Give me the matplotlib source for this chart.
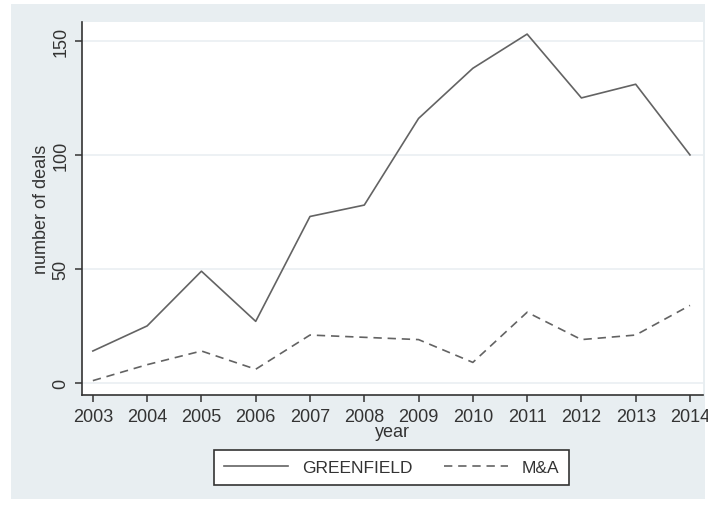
import matplotlib.pyplot as plt
from matplotlib.patches import Rectangle

plt.rcParams['font.family'] = ['Liberation Sans', 'DejaVu Sans']

years = list(range(2003, 2015))
greenfield = [14, 25, 49, 27, 73, 78, 116, 138, 153, 125, 131, 100]
mna = [1, 8, 14, 6, 21, 20, 19, 9, 31, 19, 21, 34]
yticks = [0, 50, 100, 150]

W, H = 708, 506
fig = plt.figure(figsize=(W / 100, H / 100), dpi=100, facecolor='white')

# light grey-blue graph region behind the plot
bg = Rectangle((11 / W, 1 - 500 / H), (705 - 11) / W, (500 - 5) / H,
               transform=fig.transFigure, facecolor='#e8eef1',
               edgecolor='none', zorder=-10)
fig.add_artist(bg)

ax = fig.add_axes([82 / W, 1 - 396 / H, (703 - 82) / W, (396 - 23) / H])
ax.set_zorder(1)
ax.set_facecolor('white')

ax.plot(years, greenfield, color='#636363', lw=1.2, label='GREENFIELD')
ax.plot(years, mna, color='#636363', lw=1.2, dashes=(5, 3.5), label='M&A')

ax.set_xlim(2002.8, 2014.24)
ax.set_ylim(-5.3, 158.3)
ax.set_xticks(years)
ax.set_yticks(yticks)
ax.set_yticklabels([str(v) for v in yticks], rotation=90, va='center')
for v in yticks:
    ax.axhline(v, color='#eaeff2', lw=1.2, zorder=0)

for s in ['top', 'right']:
    ax.spines[s].set_visible(False)
for s in ['left', 'bottom']:
    ax.spines[s].set_color('#333333')
    ax.spines[s].set_linewidth(1.2)
ax.tick_params(axis='both', length=5, width=1.1, color='#333333',
               labelsize=13, labelcolor='#333333', pad=4)

ax.set_xlabel('year', fontsize=13, color='#333333', labelpad=-1)
ax.set_ylabel('number of deals', fontsize=13, color='#333333', labelpad=2)

leg = fig.legend(loc='center', bbox_to_anchor=(391.5 / W, 1 - 468.5 / H), ncol=2,
                 fontsize=12.5, frameon=True, fancybox=False, handlelength=3.7,
                 columnspacing=1.8, handletextpad=0.8, borderpad=0.55)
leg.get_frame().set_edgecolor('#333333')
leg.get_frame().set_linewidth(1.2)
leg.get_frame().set_alpha(1)
leg.get_frame().set_facecolor('white')
leg.set_zorder(2)
for t in leg.get_texts():
    t.set_color('#333333')

fig.savefig('out.png', dpi=100, facecolor='white')
